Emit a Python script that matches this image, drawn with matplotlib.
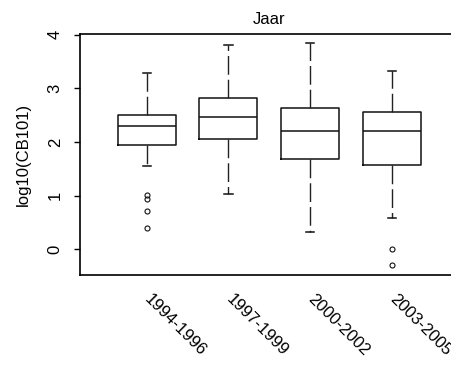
import matplotlib
matplotlib.use("Agg")
import matplotlib.pyplot as plt

plt.rcParams['font.family'] = ['Liberation Sans', 'DejaVu Sans']

# Boxplot statistics (log10 scale)
periods = ["1994-1996", "1997-1999", "2000-2002", "2003-2005"]
medians = [2.29, 2.46, 2.21, 2.21]
q1 = [1.94, 2.05, 1.69, 1.57]
q3 = [2.50, 2.81, 2.64, 2.55]
whis_lo = [1.56, 1.03, 0.33, 0.59]
whis_hi = [3.29, 3.80, 3.84, 3.32]
outliers = [[1.01, 0.93, 0.72, 0.39], [], [], [0.0, -0.30]]

stats = []
for i in range(len(periods)):
    stats.append(dict(label=periods[i], med=medians[i], q1=q1[i], q3=q3[i],
                      whislo=whis_lo[i], whishi=whis_hi[i], fliers=outliers[i]))

W, H = 451, 365
fig = plt.figure(figsize=(W / 100, H / 100), dpi=100)
ax = fig.add_axes([80 / W, (H - 275) / H, (458.7 - 80) / W, (275 - 34) / H])

ax.bxp(stats, positions=[1, 2, 3, 4], widths=0.71, capwidths=0.1,
       boxprops=dict(color='#111111', linewidth=1.1),
       medianprops=dict(color='#111111', linewidth=1.1),
       whiskerprops=dict(color='#222222', linewidth=1.0, linestyle=(0, (13.5, 3.6))),
       capprops=dict(color='#111111', linewidth=1.1),
       flierprops=dict(marker='o', markersize=3.6, markerfacecolor='none',
                       markeredgecolor='#111111', markeredgewidth=0.8))

ax.set_xlim(0.184, 4.816)
ax.set_ylim(-0.48, 4.01)
ax.set_yticks([0, 1, 2, 3, 4])
ax.set_yticklabels(['0', '1', '2', '3', '4'], rotation=90, va='center', fontsize=12)
ax.tick_params(axis='y', length=4.5, width=1.0, pad=8)
ax.set_xticks([1, 2, 3, 4])
ax.set_xticklabels(periods, rotation=-45, ha='left', va='center',
                   rotation_mode='anchor', fontsize=12)
ax.tick_params(axis='x', length=0, pad=16)

for s in ax.spines.values():
    s.set_linewidth(1.2)

ax.set_ylabel("log10(CB101)", fontsize=12, labelpad=12)
ax.set_title("Jaar", fontsize=12, pad=7)

fig.savefig("out.png", dpi=100)
